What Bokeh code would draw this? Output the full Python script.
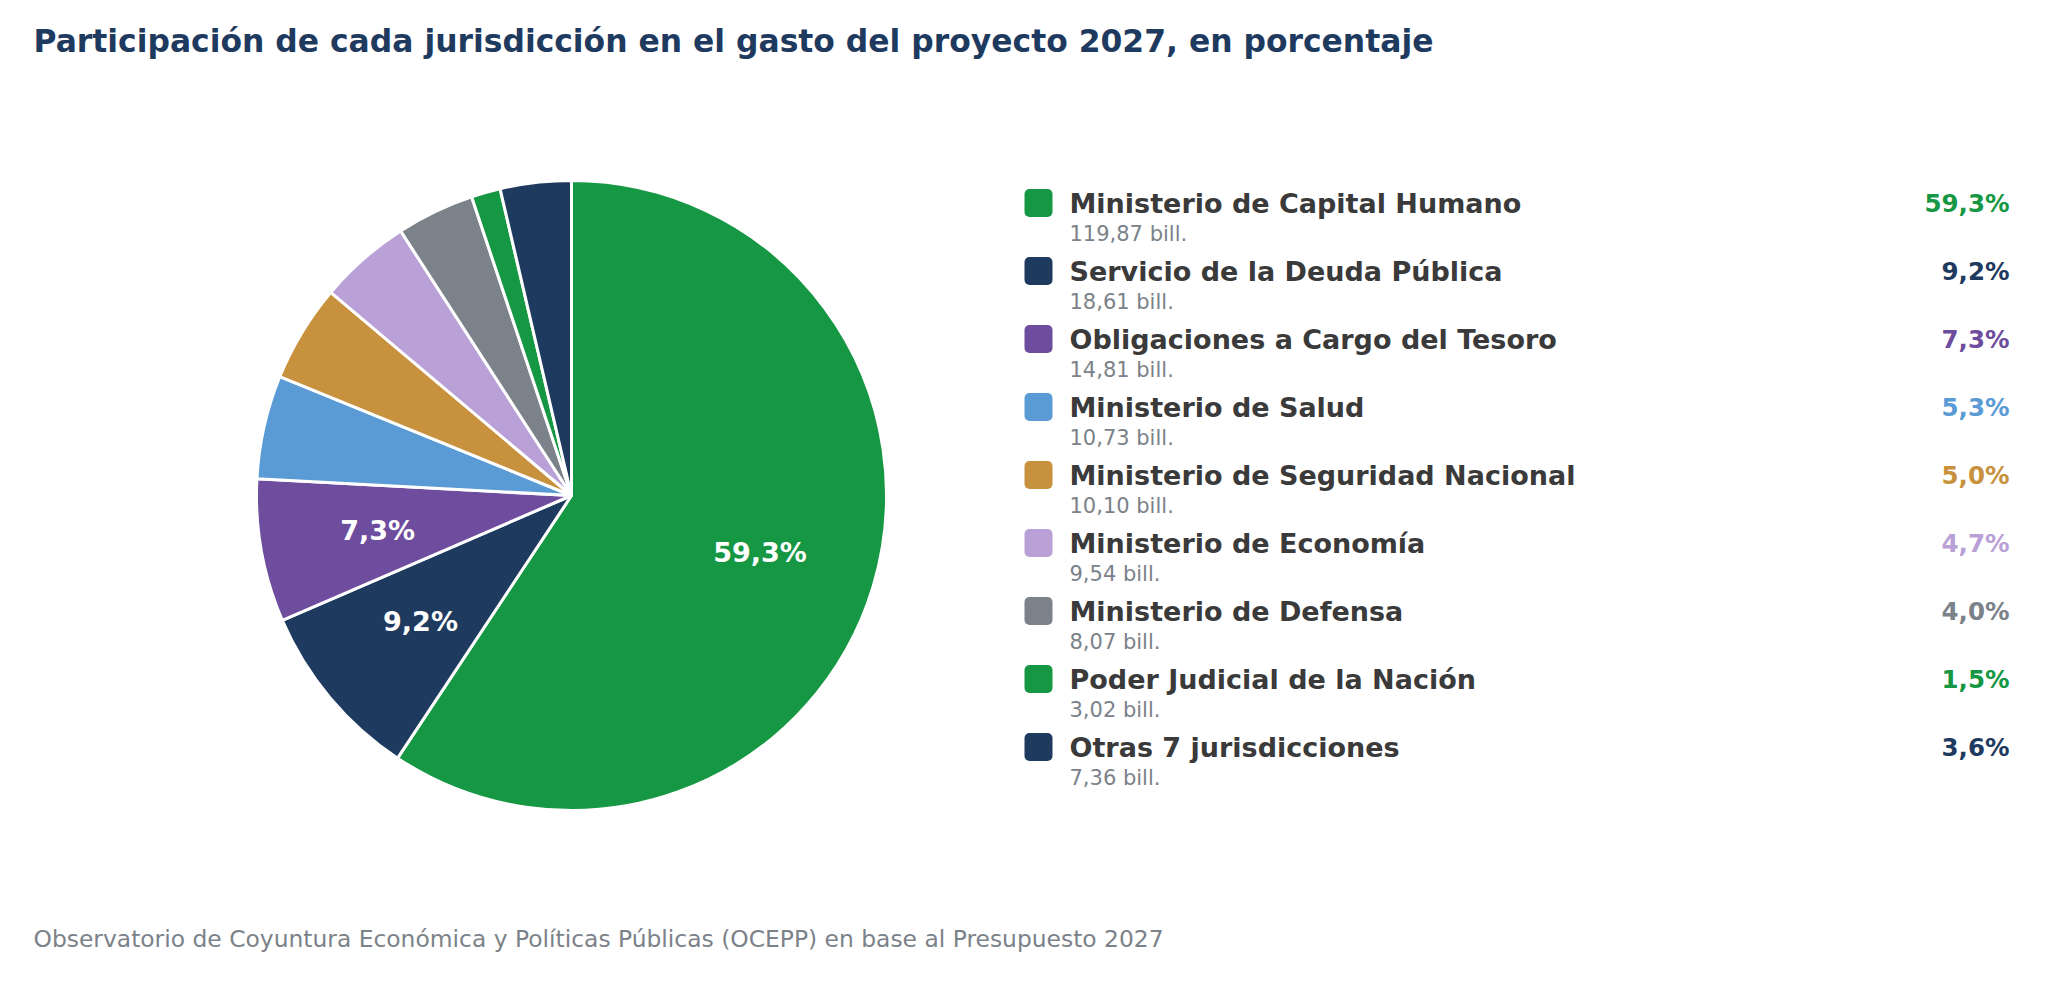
import math
from bokeh.plotting import figure
from bokeh.models import Range1d, ColumnDataSource
from bokeh.core.properties import value
from bokeh.embed import file_html
from bokeh.resources import INLINE

TITLE = "Participación de cada jurisdicción en el gasto del proyecto 2027, en porcentaje"
SOURCE = "Observatorio de Coyuntura Económica y Políticas Públicas (OCEPP) en base al Presupuesto 2027"

categories = [
    "Ministerio de Capital Humano",
    "Servicio de la Deuda Pública",
    "Obligaciones a Cargo del Tesoro",
    "Ministerio de Salud",
    "Ministerio de Seguridad Nacional",
    "Ministerio de Economía",
    "Ministerio de Defensa",
    "Poder Judicial de la Nación",
    "Otras 7 jurisdicciones",
]
amounts = [119.87, 18.61, 14.81, 10.73, 10.10, 9.54, 8.07, 3.02, 7.36]
shares = [59.3, 9.2, 7.3, 5.3, 5.0, 4.7, 4.0, 1.5, 3.6]
colors = ["#169743", "#1f3a5f", "#6e4c9e", "#5b9bd5", "#c7913d",
          "#b9a0d6", "#7b8289", "#169743", "#1f3a5f"]

FONT = "DejaVu Sans"
TITLE_COLOR = "#1f3a5f"
LABEL_COLOR = "#3a3a3a"
SUB_COLOR = "#7b8289"

def fmt_share(s):
    return f"{s:.1f}".replace(".", ",") + "%"

def fmt_amount(a):
    return f"{a:.2f}".replace(".", ",") + " bill."

W, H = 2048, 980
p = figure(width=W, height=H, output_backend="svg", toolbar_location=None,
           x_range=Range1d(0, W), y_range=Range1d(-H, 0),
           min_border=0, outline_line_color=None)
p.axis.visible = False
p.grid.visible = False
p.background_fill_color = "white"
p.border_fill_color = "white"

# ---- pie ----
CX, CY, R = 571, -495, 315
total = sum(amounts)
starts, ends, mids = [], [], []
cum = 0.0
for a in amounts:
    s = math.pi / 2 - 2 * math.pi * cum / total
    cum += a
    e = math.pi / 2 - 2 * math.pi * cum / total
    starts.append(s)
    ends.append(e)
    mids.append((s + e) / 2)

pie_src = ColumnDataSource(dict(start=starts, end=ends, color=colors))
p.wedge(x=CX, y=CY, radius=R, start_angle="start", end_angle="end",
        direction="clock", fill_color="color", line_color="white",
        line_width=3, source=pie_src)

inner = [(m, s) for m, s in zip(mids, shares) if s >= 7]
LR = 0.625 * R
p.text(x=[CX + LR * math.cos(m) for m, _ in inner],
       y=[CY + LR * math.sin(m) for m, _ in inner],
       text=[fmt_share(s) for _, s in inner],
       text_font=value(FONT), text_font_style="bold", text_font_size="27px",
       text_color="white", text_align="center", text_baseline="middle")

# ---- legend ----
ROW0, STEP = 202.5, 68
rows_y = [-(ROW0 + i * STEP) for i in range(len(categories))]
leg = ColumnDataSource(dict(
    y=rows_y,
    ysub=[y - 31 for y in rows_y],
    name=categories,
    sub=[fmt_amount(a) for a in amounts],
    pct=[fmt_share(s) for s in shares],
    color=colors,
))
p.rect(x=1038, y="y", width=28, height=28, fill_color="color",
       line_color=None, border_radius=5, source=leg)
p.text(x=1069, y="y", text="name", source=leg, text_font=value(FONT),
       text_font_style="bold", text_font_size="27px", text_color=LABEL_COLOR,
       text_align="left", text_baseline="middle")
p.text(x=1069, y="ysub", text="sub", source=leg, text_font=value(FONT),
       text_font_size="21px", text_color=SUB_COLOR,
       text_align="left", text_baseline="middle")
p.text(x=2009, y="y", text="pct", source=leg, text_font=value(FONT),
       text_font_style="bold", text_font_size="24.5px", text_color="color",
       text_align="right", text_baseline="middle")

# ---- title & source ----
p.text(x=[33], y=[-40], text=[TITLE], text_font=value(FONT),
       text_font_style="bold", text_font_size="31.4px", text_color=TITLE_COLOR,
       text_align="left", text_baseline="middle")
p.text(x=[33], y=[-938], text=[SOURCE], text_font=value(FONT),
       text_font_size="23.4px", text_color=SUB_COLOR,
       text_align="left", text_baseline="middle")

open("out.html", "w").write(file_html(p, INLINE))
